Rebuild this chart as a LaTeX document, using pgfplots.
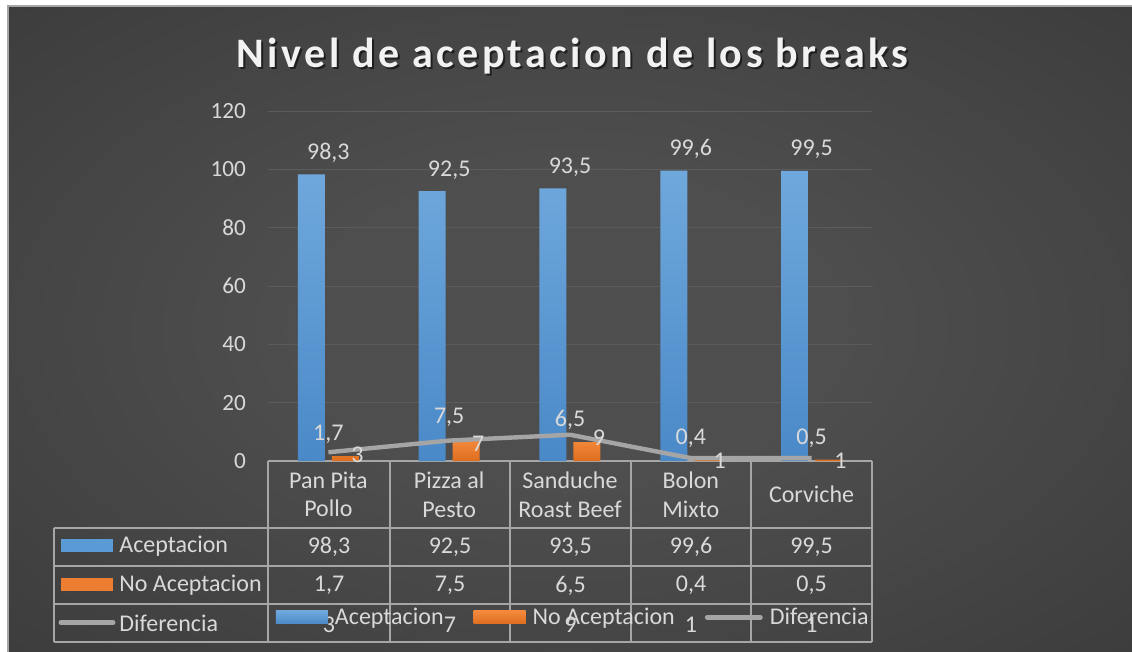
\documentclass[border=0pt]{standalone}
\usepackage{fontspec}
\setmainfont{Carlito}
\newfontfamily\titlefont[LetterSpace=8.2]{Carlito}
\usepackage{pgfplots}
\pgfplotsset{compat=1.18}
\definecolor{bgin}{HTML}{4E4E4E}
\definecolor{bgout}{HTML}{222222}
\definecolor{txt}{HTML}{D9D9D9}
\definecolor{blueT}{HTML}{6FA8DC}
\definecolor{blueB}{HTML}{4A89C8}
\definecolor{blueM}{HTML}{5B9BD5}
\definecolor{orT}{HTML}{F4893D}
\definecolor{orB}{HTML}{DE6E1E}
\definecolor{orM}{HTML}{ED7D31}
\definecolor{lineg}{HTML}{A5A5A5}
\definecolor{tbl}{HTML}{A6A6A6}
\definecolor{grd}{HTML}{5C5C5C}
\pgfdeclareradialshading{bgshade}{\pgfpoint{0bp}{0bp}}{color(0bp)=(bgin); color(12bp)=(bgin); color(72bp)=(bgout)}
\newcommand{\lbl}{\fontsize{12}{14.3}\selectfont}
\newcommand{\tck}{\fontsize{11.6}{14}\selectfont}
\begin{document}
\begin{tikzpicture}
\begin{scope}[x=0.5pt,y=-0.5pt]
\useasboundingbox (0,0) rectangle (1132,652);
\fill[white] (0,0) rectangle (1132,652);
\shade[shading=bgshade] (8,6) rectangle (1132,652);
\draw[gray!70, line width=0.6pt] (8,652) -- (8,6) -- (1132,6);
% title
\node[anchor=base, text=black, opacity=0.55, font=\titlefont\bfseries\fontsize{21}{25}\selectfont] at (574.5,69.5) {Nivel de aceptacion de los breaks};
\node[anchor=base, text=white!95!black, font=\titlefont\bfseries\fontsize{21}{25}\selectfont] at (572.5,67.5) {Nivel de aceptacion de los breaks};
% table
\begin{scope}[draw=tbl, line width=0.75pt]
\draw (268,461) -- (872,461);
\draw (54,528) -- (872,528);
\draw (54,566) -- (872,566);
\draw (54,604) -- (872,604);
\draw (54,642) -- (872,642);
\foreach \x in {268,390,510,631,751,872} \draw (\x,461) -- (\x,642);
\draw (54,528) -- (54,642);
\end{scope}
\fill[blueM] (61,539) rectangle (113,552);
\fill[orM] (61,578) rectangle (113,591);
\draw[lineg, line width=2.5pt, line cap=round] (61,622.5) -- (113,622.5);
\begin{scope}[every node/.style={text=txt, font=\lbl, inner sep=0pt}]
\node[anchor=west] at (119,546) {Aceptacion};
\node[anchor=west] at (119,585.5) {No Aceptacion};
\node[anchor=west] at (119,623.5) {Diferencia};
\node at (329,547) {98,3};
\node at (450,547) {92,5};
\node at (570.5,547) {93,5};
\node at (691,547) {99,6};
\node at (811.5,547) {99,5};
\node at (329,585.5) {1,7};
\node at (450,585.5) {7,5};
\node at (570.5,585.5) {6,5};
\node at (691,585.5) {0,4};
\node at (811.5,585.5) {0,5};
\node at (329,625) {3};
\node at (450,625) {7};
\node at (570.5,625) {9};
\node at (691,625) {1};
\node at (811.5,625) {1};
\end{scope}
\end{scope}
\begin{axis}[at={(134pt,-230.5pt)}, anchor=south west, scale only axis,
  width=302pt, height=175pt, xmin=-0.5, xmax=4.5, ymin=0, ymax=120,
  clip=false, axis line style={draw=none}, major tick length=0, minor tick length=0,
  /pgf/number format/assume math mode=true,
  ytick={0,20,...,120}, minor ytick={20,40,...,120}, yminorgrids,
  minor grid style={grd, line width=0.5pt},
  yticklabel style={text=txt, font=\tck, xshift=-7.5pt},
  xtick={0,...,4},
  xticklabels={{Pan Pita\\Pollo},{Pizza al\\Pesto},{Sanduche\\Roast Beef},{Bolon\\Mixto},Corviche},
  xticklabel style={align=center, anchor=center, yshift=-16.75pt, text=txt, font=\lbl},
  legend columns=3,
  legend style={at={(axis description cs:0.0132,-0.447)}, anchor=west, draw=none, fill=none,
    inner sep=0pt, outer sep=0pt, text=txt, font=\lbl,
    /tikz/every odd column/.append style={column sep=1.5pt},
    /tikz/every even column/.append style={column sep=13pt},
    /tikz/column 5/.append style={column sep=-2pt}},
]
\addplot[ybar, bar width=13.5pt, bar shift=-8.5pt, draw=none, top color=blueT, bottom color=blueB,
  nodes near coords={\pgfmathprintnumber[fixed,precision=1,use comma]{\pgfplotspointmeta}},
  every node near coord/.append style={text=txt, font=\lbl, yshift=2.5pt},
  legend image code/.code={\fill[blueM] (0pt,-3.25pt) rectangle (26pt,3.25pt);}]
  coordinates {(0,98.3) (1,92.5) (2,93.5) (3,99.6) (4,99.5)};
\addlegendentry{Aceptacion}
\addplot[ybar, bar width=13.5pt, bar shift=8.5pt, draw=none, top color=orT, bottom color=orB,
  nodes near coords={\pgfmathprintnumber[fixed,precision=1,use comma]{\pgfplotspointmeta}},
  every node near coord/.append style={text=txt, font=\lbl, yshift=2.5pt},
  legend image code/.code={\fill[orM] (0pt,-3.25pt) rectangle (26pt,3.25pt);}]
  coordinates {(0,1.7) (1,7.5) (2,6.5) (3,0.4) (4,0.5)};
\addlegendentry{No Aceptacion}
\addplot[lineg, line width=2.2pt, line join=round, mark=none,
  nodes near coords={\pgfmathprintnumber[fixed,precision=0]{\pgfplotspointmeta}},
  every node near coord/.append style={text=txt, font=\lbl, anchor=west, xshift=7pt, yshift=-1.5pt},
  legend image code/.code={\draw[lineg, line width=2.5pt, line cap=round] (1.25pt,0pt) -- (27.75pt,0pt);}]
  coordinates {(0,3) (1,7) (2,9) (3,1) (4,1)};
\addlegendentry{Diferencia}
\end{axis}
\end{tikzpicture}
\end{document}
